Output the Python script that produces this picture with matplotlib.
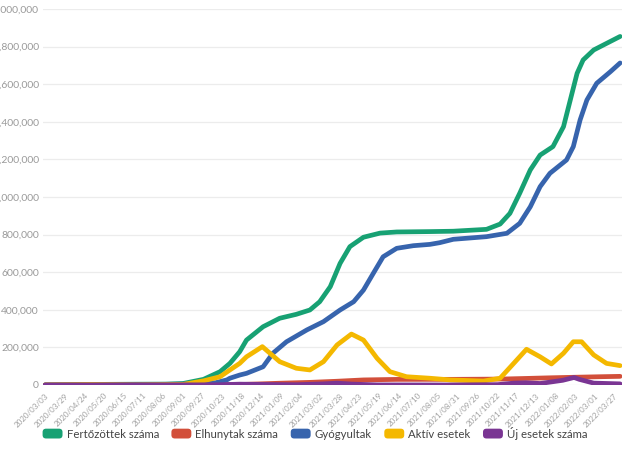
import matplotlib.pyplot as plt
import numpy as np
import pandas as pd
from matplotlib.patches import Patch, FancyBboxPatch
from matplotlib.legend_handler import HandlerPatch
from matplotlib.ticker import FuncFormatter

plt.rcParams['font.family'] = ['Lato', 'DejaVu Sans']

# adatok (dátum, érték)
start = pd.Timestamp('2020-03-03')

fert_dates = ['2020-03-03', '2020-05-02', '2020-07-01', '2020-08-10', '2020-09-02', '2020-09-29',
              '2020-10-21', '2020-11-03', '2020-11-16', '2020-11-25', '2020-12-17', '2021-01-08',
              '2021-01-30', '2021-02-17', '2021-03-02', '2021-03-16', '2021-03-29', '2021-04-11',
              '2021-04-29', '2021-05-21', '2021-06-12', '2021-07-26', '2021-08-26', '2021-10-09',
              '2021-10-27', '2021-11-09', '2021-11-22', '2021-12-06', '2021-12-19', '2022-01-05',
              '2022-01-19', '2022-01-28', '2022-02-06', '2022-02-14', '2022-02-28', '2022-03-17',
              '2022-04-04']
fert_vals = [0, 3000, 4200, 4800, 8000, 30000, 71000, 115000, 177000, 239000, 310000, 355000,
             376000, 399000, 443000, 523000, 647000, 736000, 786000, 808000, 814000, 816000,
             818000, 828000, 856000, 913000, 1020000, 1144000, 1223000, 1268000, 1374000,
             1516000, 1658000, 1729000, 1782000, 1817000, 1854000]

gyogy_dates = ['2020-03-03', '2020-06-01', '2020-09-01', '2020-10-15', '2020-10-30', '2020-11-03',
               '2020-11-16', '2020-11-25', '2020-12-17', '2020-12-30', '2021-01-17', '2021-02-13',
               '2021-03-07', '2021-03-29', '2021-04-16', '2021-04-29', '2021-05-12', '2021-05-25',
               '2021-06-12', '2021-07-04', '2021-07-26', '2021-08-08', '2021-08-26', '2021-10-09',
               '2021-11-05', '2021-11-22', '2021-12-06', '2021-12-19', '2022-01-01', '2022-01-23',
               '2022-02-01', '2022-02-10', '2022-02-19', '2022-03-04', '2022-03-22', '2022-04-04']
gyogy_vals = [0, 2000, 4000, 12000, 27000, 36000, 53000, 62000, 97000, 169000, 230000, 293000,
              337000, 399000, 443000, 505000, 594000, 682000, 727000, 741000, 748000, 757000,
              775000, 789000, 807000, 860000, 948000, 1055000, 1126000, 1197000, 1268000,
              1410000, 1516000, 1605000, 1666000, 1713000]

aktiv_dates = ['2020-03-03', '2020-05-02', '2020-07-01', '2020-09-02', '2020-09-29', '2020-10-21',
               '2020-11-03', '2020-11-16', '2020-11-25', '2020-12-16', '2021-01-08', '2021-01-30',
               '2021-02-17', '2021-03-07', '2021-03-25', '2021-04-13', '2021-04-29', '2021-05-17',
               '2021-06-03', '2021-06-25', '2021-07-26', '2021-08-22', '2021-10-05', '2021-10-27',
               '2021-11-14', '2021-12-01', '2021-12-19', '2022-01-03', '2022-01-19', '2022-02-01',
               '2022-02-12', '2022-02-28', '2022-03-17', '2022-04-04']
aktiv_vals = [0, 2500, 500, 3000, 22000, 44000, 80000, 115000, 150000, 204000, 124000, 89000,
              80000, 124000, 213000, 271000, 239000, 142000, 71000, 44000, 36000, 27000, 21000,
              36000, 115000, 190000, 150000, 112000, 169000, 230000, 230000, 160000, 115000, 103000]

elhuny_dates = ['2020-03-03', '2020-09-19', '2020-10-21', '2020-11-16', '2020-12-17', '2021-01-08',
                '2021-02-17', '2021-03-25', '2021-04-29', '2021-06-12', '2021-08-26', '2021-10-27',
                '2021-12-01', '2022-01-03', '2022-02-06', '2022-03-08', '2022-04-04']
elhuny_vals = [0, 620, 1100, 2500, 6500, 9500, 14000, 20000, 27000, 29800, 30100, 31500, 35000,
               38500, 41500, 44000, 46000]

uj_dates = ['2020-03-03', '2020-09-19', '2020-10-21', '2020-11-16', '2020-12-17', '2021-01-30',
            '2021-03-07', '2021-03-25', '2021-04-13', '2021-05-17', '2021-08-15', '2021-10-24',
            '2021-11-14', '2021-11-30', '2021-12-19', '2022-01-18', '2022-02-02', '2022-02-09',
            '2022-02-28', '2022-04-04']
uj_vals = [0, 800, 1500, 4500, 3000, 1500, 6000, 10000, 5000, 500, 100, 2000, 10000, 12000,
           8000, 25000, 40000, 30000, 10000, 6000]

tick_labels = [(start + pd.Timedelta(days=26 * i)).strftime('%Y/%m/%d') for i in range(30)]

series = [
    ('Fertőzöttek száma', fert_dates, fert_vals, '#17a173'),
    ('Elhunytak száma', elhuny_dates, elhuny_vals, '#d24f3a'),
    ('Gyógyultak', gyogy_dates, gyogy_vals, '#3764ad'),
    ('Aktív esetek', aktiv_dates, aktiv_vals, '#f4b800'),
    ('Új esetek száma', uj_dates, uj_vals, '#7a3593'),
]


def napok(dates):
    return np.array([(pd.Timestamp(d) - start).days for d in dates])


fig = plt.figure(figsize=(6.3, 4.49), dpi=100)
ax = fig.add_axes([43 / 630, 64 / 449, 579 / 630, 376 / 449])

for nev, d, v, c in series:
    ax.plot(napok(d), v, color=c, lw=3.4, solid_capstyle='round', solid_joinstyle='round',
            label=nev)

ax.set_xlim(-2.6, 764.5)
ax.set_ylim(0, 2000000)
ax.set_yticks(np.arange(0, 2000001, 200000))
ax.yaxis.set_major_formatter(FuncFormatter(lambda y, _: '{:,.0f}'.format(y)))
ax.set_xticks(np.arange(30) * 26)
ax.set_xticklabels(tick_labels, rotation=45, ha='right', rotation_mode='anchor')

ax.grid(axis='y', color='#ececec', lw=0.9)
ax.set_axisbelow(True)
for s in ax.spines.values():
    s.set_visible(False)
ax.tick_params(axis='y', length=0, pad=3, labelsize=7.5, labelcolor='#9a9a9a')
ax.tick_params(axis='x', length=0, pad=5, labelsize=5.8, labelcolor='#a0a0a0')


class KerekHandler(HandlerPatch):
    def create_artists(self, legend, orig_handle, xdescent, ydescent, width, height,
                       fontsize, trans):
        r = 2.5
        p = FancyBboxPatch((-xdescent + r, -ydescent + r), width - 2 * r, height - 2 * r,
                           boxstyle='round,pad=%s' % r, fc=orig_handle.get_facecolor(),
                           ec='none', transform=trans)
        return [p]


handles = [Patch(color=c, label=n) for n, _, _, c in series]
fig.legend(handles=handles, loc='center', bbox_to_anchor=(0.5, 16 / 449), ncol=5,
           frameon=False, fontsize=8.2, labelcolor='#444444', handlelength=1.75,
           handleheight=0.95, handletextpad=0.35, columnspacing=1.1,
           handler_map={Patch: KerekHandler()})

fig.savefig('out.png', dpi=100)
